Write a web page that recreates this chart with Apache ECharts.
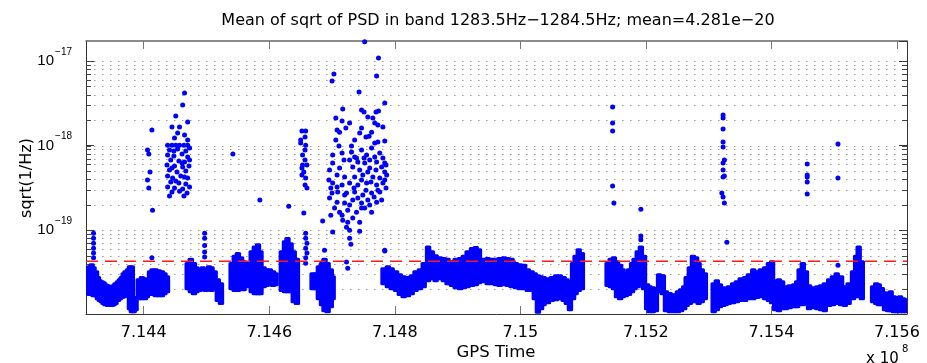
<!DOCTYPE html>
<html><head><meta charset="utf-8">
<script src="https://cdn.jsdelivr.net/npm/echarts@6/dist/echarts.min.js"></script>
<style>html,body{margin:0;padding:0;background:#fff}#c{width:927px;height:363px}</style>
</head><body><div id="c"></div>
<script>
const TITLE = 'Mean of sqrt of PSD in band 1283.5Hz\u22121284.5Hz; mean=4.281e\u221220';
const X_LABEL = 'GPS Time';
const Y_LABEL = 'sqrt(1/Hz)';
const X_MULT = 'x 10';
const X_MULT_EXP = '8';
const X_MIN = 7.14308, X_MAX = 7.15616;
const Y_MIN = 1.02e-20, Y_MAX = 1.72e-17;
const X_TICKS = [7.144, 7.146, 7.148, 7.150, 7.152, 7.154, 7.156];
const MEAN_VALUE = 4.281e-20;
const GRID_VALUES = [2e-20,3e-20,4e-20,5e-20,6e-20,7e-20,8e-20,9e-20,
  1e-19,2e-19,3e-19,4e-19,5e-19,6e-19,7e-19,8e-19,9e-19,
  1e-18,2e-18,3e-18,4e-18,5e-18,6e-18,7e-18,8e-18,9e-18,1e-17];

// dense band: [GPS time (x1e8), low edge, high edge]
const bandColumns = [
[7.14308,1.80e-20,3.55e-20],[7.14311,1.70e-20,3.75e-20],[7.14314,1.66e-20,3.85e-20],[7.14317,1.66e-20,4.07e-20],[7.14320,1.61e-20,3.75e-20],[7.14324,1.61e-20,3.36e-20],
[7.14327,1.48e-20,2.86e-20],[7.14330,1.41e-20,2.63e-20],[7.14333,1.37e-20,2.56e-20],[7.14336,1.30e-20,2.49e-20],[7.14339,1.26e-20,2.36e-20],[7.14343,1.23e-20,2.30e-20],[7.14346,1.23e-20,2.17e-20],[7.14349,1.23e-20,2.23e-20],[7.14352,1.26e-20,2.30e-20],[7.14355,1.30e-20,2.42e-20],
[7.14359,1.41e-20,2.56e-20],[7.14362,1.48e-20,2.70e-20],[7.14365,1.53e-20,2.86e-20],[7.14368,1.57e-20,3.18e-20],[7.14371,1.61e-20,3.36e-20],[7.14375,1.66e-20,3.55e-20],[7.14378,1.13e-20,3.85e-20],[7.14381,1.04e-20,3.85e-20],
[7.14384,1.04e-20,1.66e-20],[7.14387,1.10e-20,1.61e-20],
[7.14392,1.48e-20,2.70e-20],[7.14397,1.48e-20,2.86e-20],[7.14402,1.48e-20,2.78e-20],[7.14405,1.57e-20,2.63e-20],
[7.14410,1.70e-20,3.36e-20],[7.14414,1.66e-20,3.55e-20],[7.14419,1.61e-20,3.55e-20],[7.14424,1.61e-20,3.45e-20],[7.14429,1.61e-20,3.36e-20],[7.14433,1.70e-20,3.18e-20],[7.14437,1.80e-20,2.93e-20],
[7.14470,1.95e-20,4.2e-20],[7.14475,1.80e-20,4.7e-20],[7.14480,1.70e-20,4.2e-20],[7.14484,1.80e-20,3.75e-20],[7.14489,1.85e-20,3.55e-20],[7.14494,1.90e-20,3.75e-20],[7.14499,1.85e-20,3.55e-20],[7.14504,1.90e-20,3.85e-20],[7.14508,1.85e-20,3.75e-20],[7.14513,1.95e-20,3.36e-20],[7.14518,1.41e-20,2.70e-20],[7.14523,1.30e-20,2.42e-20],
[7.14540,1.95e-20,4.2e-20],[7.14545,1.85e-20,5.1e-20],[7.14550,1.85e-20,5.5e-20],[7.14555,1.95e-20,4.9e-20],[7.14559,1.90e-20,4.4e-20],[7.14564,2.06e-20,4.2e-20],
[7.14572,1.80e-20,5.8e-20],[7.14577,1.70e-20,6.6e-20],[7.14582,1.70e-20,7.0e-20],[7.14586,1.70e-20,5.8e-20],[7.14591,2.06e-20,3.75e-20],[7.14596,2.12e-20,3.55e-20],[7.14601,2.23e-20,3.55e-20],[7.14606,2.12e-20,3.36e-20],[7.14610,2.17e-20,3.18e-20],
[7.14620,1.85e-20,5.8e-20],[7.14625,1.80e-20,7.6e-20],[7.14629,1.80e-20,8.3e-20],[7.14634,1.80e-20,7.2e-20],[7.14639,1.37e-20,5.8e-20],[7.14644,1.30e-20,4.7e-20],
[7.14669,1.95e-20,3.18e-20],[7.14674,1.95e-20,3.18e-20],
[7.14679,1.48e-20,3.85e-20],[7.14684,1.26e-20,4.2e-20],[7.14688,1.07e-20,4.7e-20],[7.14693,1.04e-20,4.2e-20],[7.14698,1.19e-20,3.55e-20],[7.14701,1.48e-20,2.93e-20],
[7.14782,2.23e-20,3.65e-20],[7.14789,2.06e-20,3.85e-20],[7.14795,1.95e-20,3.65e-20],[7.14802,1.85e-20,3.36e-20],[7.14808,1.66e-20,3.10e-20],[7.14814,1.57e-20,2.93e-20],[7.14821,1.61e-20,2.86e-20],[7.14827,1.70e-20,3.0e-20],[7.14833,1.85e-20,3.36e-20],[7.14840,1.95e-20,3.55e-20],[7.14846,2.06e-20,4.2e-20],
[7.14853,2.42e-20,6.6e-20],[7.14859,2.56e-20,5.8e-20],[7.14865,2.42e-20,5.2e-20],[7.14872,2.56e-20,4.9e-20],[7.14878,2.42e-20,4.8e-20],[7.14884,2.23e-20,4.7e-20],[7.14891,2.12e-20,4.4e-20],[7.14897,2.0e-20,4.7e-20],[7.14904,1.95e-20,4.8e-20],[7.14910,2.0e-20,5.1e-20],[7.14916,2.06e-20,5.8e-20],[7.14923,2.12e-20,6.3e-20],[7.14929,2.17e-20,6.5e-20],[7.14934,2.30e-20,6.1e-20],
[7.14942,2.36e-20,4.7e-20],[7.14948,2.23e-20,4.8e-20],[7.14955,2.23e-20,4.7e-20],[7.14961,2.17e-20,4.7e-20],
[7.14967,2.12e-20,4.8e-20],[7.14974,2.17e-20,4.9e-20],[7.14980,2.12e-20,4.8e-20],[7.14986,2.06e-20,4.7e-20],[7.14993,2.0e-20,4.2e-20],[7.14999,1.95e-20,4.07e-20],[7.15006,1.95e-20,4.0e-20],[7.15012,1.85e-20,3.55e-20],[7.15018,1.85e-20,3.36e-20],[7.15023,1.48e-20,3.18e-20],
[7.15028,1.03e-20,3.0e-20],[7.15033,1.13e-20,2.93e-20],[7.15037,1.26e-20,2.86e-20],[7.15044,1.33e-20,2.78e-20],[7.15050,1.41e-20,2.86e-20],[7.15057,1.44e-20,3.0e-20],[7.15063,1.48e-20,3.0e-20],[7.15069,1.41e-20,2.86e-20],[7.15074,1.30e-20,2.70e-20],[7.15079,1.10e-20,2.56e-20],
[7.15084,1.48e-20,4.2e-20],[7.15088,1.70e-20,5.1e-20],[7.15093,1.85e-20,6.1e-20],[7.15098,1.95e-20,5.5e-20],
[7.15139,2.12e-20,4.2e-20],[7.15144,2.06e-20,4.7e-20],[7.15149,1.95e-20,4.9e-20],[7.15154,1.57e-20,4.4e-20],[7.15159,1.48e-20,4.0e-20],[7.15163,1.57e-20,3.55e-20],
[7.15168,1.61e-20,3.18e-20],[7.15173,1.66e-20,3.55e-20],[7.15178,1.80e-20,4.2e-20],[7.15182,1.95e-20,4.7e-20],[7.15187,2.06e-20,5.8e-20],[7.15192,2.23e-20,6.6e-20],[7.15197,1.95e-20,5.1e-20],
[7.15202,1.13e-20,2.36e-20],[7.15206,1.04e-20,2.23e-20],[7.15211,1.04e-20,2.17e-20],[7.15216,1.07e-20,2.12e-20],
[7.15221,1.80e-20,3.1e-20],[7.15227,1.70e-20,3.0e-20],
[7.15232,1.07e-20,1.95e-20],[7.15238,1.04e-20,1.85e-20],[7.15245,1.04e-20,1.80e-20],[7.15251,1.04e-20,1.95e-20],[7.15256,1.07e-20,2.06e-20],
[7.15261,1.13e-20,2.23e-20],[7.15265,1.23e-20,2.86e-20],[7.15270,1.30e-20,3.75e-20],[7.15275,1.37e-20,5.1e-20],[7.15280,1.41e-20,4.9e-20],[7.15284,1.30e-20,4.2e-20],[7.15289,1.37e-20,3.55e-20],[7.15294,1.48e-20,3.18e-20],
[7.15308,1.04e-20,2.42e-20],[7.15313,1.10e-20,2.63e-20],[7.15318,1.19e-20,2.36e-20],[7.15323,1.23e-20,2.17e-20],[7.15327,1.26e-20,2.06e-20],
[7.15332,1.30e-20,2.23e-20],[7.15339,1.33e-20,2.42e-20],[7.15345,1.37e-20,2.56e-20],[7.15351,1.41e-20,2.78e-20],[7.15358,1.41e-20,2.86e-20],[7.15364,1.48e-20,3.1e-20],[7.15371,1.48e-20,3.55e-20],[7.15377,1.53e-20,3.36e-20],[7.15383,1.57e-20,3.55e-20],[7.15390,1.48e-20,3.75e-20],[7.15396,1.41e-20,4.2e-20],[7.15401,1.33e-20,4.4e-20],
[7.15406,1.10e-20,2.63e-20],[7.15412,1.07e-20,2.70e-20],[7.15417,1.13e-20,2.56e-20],
[7.15423,1.13e-20,2.23e-20],[7.15429,1.16e-20,2.30e-20],[7.15436,1.19e-20,2.36e-20],[7.15441,1.19e-20,2.56e-20],
[7.15445,1.33e-20,3.55e-20],[7.15450,1.26e-20,4.2e-20],[7.15455,1.30e-20,3.36e-20],
[7.15460,1.13e-20,2.30e-20],[7.15466,1.16e-20,2.17e-20],[7.15473,1.13e-20,2.23e-20],[7.15479,1.10e-20,2.30e-20],[7.15485,1.07e-20,2.42e-20],
[7.15492,1.23e-20,2.70e-20],[7.15498,1.26e-20,2.93e-20],[7.15504,1.30e-20,3.18e-20],[7.15511,1.26e-20,2.93e-20],
[7.15517,1.23e-20,2.23e-20],[7.15523,1.30e-20,2.42e-20],
[7.15530,1.48e-20,3.36e-20],[7.15535,1.57e-20,5.1e-20],[7.15539,1.66e-20,6.6e-20],[7.15544,1.48e-20,4.4e-20],
[7.15562,1.37e-20,2.23e-20],[7.15567,1.30e-20,2.42e-20],[7.15571,1.26e-20,2.36e-20],[7.15576,1.26e-20,2.12e-20],
[7.15581,1.10e-20,1.90e-20],[7.15586,1.07e-20,1.85e-20],[7.15590,1.07e-20,1.95e-20],[7.15595,1.04e-20,1.70e-20],
[7.15600,1.04e-20,1.66e-20],[7.15605,1.04e-20,1.70e-20],[7.15610,1.04e-20,1.61e-20],[7.15614,1.04e-20,1.57e-20]
];

// individual samples above the band: [GPS time (x1e8), value]
const outlierPoints = [
[7.14320,9.2e-20],[7.14320,8.0e-20],[7.14320,7.0e-20],[7.14320,6.1e-20],[7.14320,5.35e-20],[7.14320,4.7e-20],
[7.14413,4.7e-20],
[7.14497,9.2e-20],[7.14497,8.0e-20],[7.14497,6.6e-20],[7.14497,5.5e-20],[7.14497,4.8e-20],
[7.14413,1.53e-18],[7.14406,8.84e-19],[7.14408,7.93e-19],[7.14410,4.86e-19],[7.14406,3.9e-19],[7.14408,3.14e-19],[7.14414,1.72e-19],
[7.14465,4.18e-18],[7.14462,3.02e-18],[7.14451,2.23e-18],[7.14470,1.9e-18],[7.14445,1.66e-18],[7.14457,1.66e-18],[7.14454,1.41e-18],[7.14465,1.33e-18],[7.14449,1.23e-18],[7.14470,1.16e-18],
[7.14438,1.01e-18],[7.14445,1.01e-18],[7.14451,1.01e-18],[7.14457,1.01e-18],[7.14464,1.01e-18],[7.14470,1.01e-18],
[7.14441,8.84e-19],[7.14454,9.09e-19],[7.14467,8.6e-19],[7.14473,9.34e-19],[7.14448,8.6e-19],
[7.14438,7.72e-19],[7.14448,7.51e-19],[7.14461,7.93e-19],[7.14470,7.31e-19],
[7.14443,6.74e-19],[7.14456,6.55e-19],[7.14465,6.38e-19],[7.14473,6.74e-19],[7.14461,6.21e-19],
[7.14437,5.88e-19],[7.14449,5.72e-19],[7.14462,5.57e-19],[7.14472,5.72e-19],[7.14445,5.42e-19],
[7.14441,5.13e-19],[7.14453,4.86e-19],[7.14467,4.99e-19],
[7.14438,4.36e-19],[7.14446,4.12e-19],[7.14459,4.36e-19],[7.14470,4.12e-19],[7.14465,4.24e-19],[7.14451,3.8e-19],
[7.14443,3.7e-19],[7.14456,3.6e-19],[7.14467,3.5e-19],
[7.14438,3.23e-19],[7.14449,3.14e-19],[7.14462,3.06e-19],[7.14473,3.23e-19],
[7.14445,2.82e-19],[7.14457,2.89e-19],[7.14469,2.74e-19],[7.14441,2.53e-19],[7.14464,2.53e-19],
[7.14542,7.93e-19],[7.14585,2.27e-19],[7.14631,1.92e-19],
[7.14652,1.48e-18],[7.14658,1.48e-18],[7.14657,1.26e-18],[7.14650,1.07e-18],[7.14650,1.16e-18],[7.14658,1.01e-18],[7.14657,8.84e-19],[7.14653,7.72e-19],[7.14657,6.74e-19],[7.14653,5.88e-19],[7.14660,5.88e-19],[7.14652,5.42e-19],[7.14655,4.86e-19],[7.14652,4.48e-19],[7.14658,4.12e-19],[7.14657,3.41e-19],[7.14660,3.14e-19],[7.14655,1.59e-19],
[7.14658,9.2e-20],[7.14658,8.0e-20],[7.14660,7.0e-20],[7.14658,6.1e-20],[7.14660,5.35e-20],[7.14658,4.7e-20],[7.14658,4.07e-20],
[7.14688,5.8e-20],[7.14723,4.2e-20],[7.14725,3.55e-20],[7.14784,5.8e-20],
[7.14752,1.68e-17],[7.14774,1.085e-17],[7.14703,7.02e-18],[7.14700,5.8e-18],[7.14771,6.65e-18],[7.14743,4.30e-18],[7.14784,3.18e-18],
[7.14717,2.70e-18],[7.14747,2.63e-18],[7.14751,2.49e-18],[7.14774,2.56e-18],[7.14770,2.49e-18],[7.14757,2.17e-18],[7.14765,2.12e-18],[7.14716,1.95e-18],[7.14768,1.85e-18],[7.14781,1.66e-18],[7.14773,1.75e-18],
[7.14747,1.61e-18],[7.14708,1.53e-18],[7.14712,1.44e-18],[7.14744,1.41e-18],[7.14763,1.44e-18],[7.14754,1.26e-18],[7.14759,1.29e-18],[7.14784,1.13e-18],[7.14768,1.07e-18],[7.14773,1.10e-18],
[7.14711,9.86e-19],[7.14731,9.86e-19],[7.14706,2.12e-18],[7.14728,1.85e-18],[7.14722,1.61e-18],[7.14736,1.16e-18],[7.14706,1.16e-18],
[7.14701,7.72e-19],[7.14716,8.15e-19],[7.14731,8.37e-19],[7.14736,7.31e-19],[7.14747,8.84e-19],[7.14755,7.72e-19],[7.14763,9.34e-19],[7.14776,8.15e-19],[7.14781,7.11e-19],
[7.14741,6.38e-19],[7.14752,6.21e-19],[7.14771,6.38e-19],[7.14701,6.21e-19],[7.14712,5.42e-19],[7.14733,5.57e-19],[7.14744,5.13e-19],[7.14760,5.42e-19],[7.14779,5.57e-19],[7.14784,4.86e-19],
[7.14708,4.48e-19],[7.14720,4.24e-19],[7.14736,4.24e-19],[7.14749,4.48e-19],[7.14765,4.24e-19],[7.14776,4.12e-19],
[7.14701,3.6e-19],[7.14716,3.41e-19],[7.14728,3.6e-19],[7.14741,3.41e-19],[7.14755,3.6e-19],[7.14771,3.41e-19],[7.14781,3.6e-19],
[7.14700,2.74e-19],[7.14709,2.82e-19],[7.14723,2.74e-19],[7.14736,2.82e-19],[7.14749,2.6e-19],[7.14763,2.74e-19],[7.14776,2.82e-19],
[7.14708,2.14e-19],[7.14720,2.09e-19],[7.14733,2.27e-19],[7.14747,2.09e-19],[7.14757,2.27e-19],[7.14771,2.14e-19],
[7.14712,1.63e-19],[7.14725,1.72e-19],[7.14739,1.63e-19],[7.14752,1.82e-19],[7.14763,1.63e-19],
[7.14717,1.31e-19],[7.14733,1.39e-19],[7.14744,1.24e-19],[7.14723,1.08e-19],
[7.14739,7.11e-19],[7.14751,7.11e-19],[7.14760,6.74e-19],[7.14768,7.31e-19],[7.14784,6.21e-19],[7.14728,6.74e-19],[7.14757,4.86e-19],[7.14770,5.13e-19],
[7.14747,3.9e-19],[7.14762,3.7e-19],[7.14784,3.9e-19],[7.14735,3.14e-19],[7.14754,2.97e-19],[7.14773,2.97e-19],[7.14786,3.14e-19],
[7.14720,2.6e-19],[7.14741,2.39e-19],[7.14767,2.46e-19],[7.14779,2.27e-19],[7.14728,1.98e-19],[7.14747,1.82e-19],[7.14760,1.98e-19],
[7.14786,5.88e-19],[7.14787,4.48e-19],[7.14719,6.74e-19],[7.14708,3.23e-19],[7.14696,2.39e-19],[7.14704,1.82e-19],[7.14716,1.5e-19],
[7.14696,5.13e-19],[7.14695,3.9e-19],[7.14698,3.14e-19],
[7.14685,1.28e-19],[7.14698,1.5e-19],[7.14701,9.5e-20],[7.14728,1.0e-19],[7.14728,8.0e-20],[7.14730,6.8e-20],[7.14744,9.7e-20],[7.14784,5.65e-20],[7.14725,1.24e-19],
[7.15147,2.86e-18],[7.15147,1.85e-18],[7.15147,1.48e-18],[7.15147,3.32e-19],[7.15149,2.09e-19],
[7.15192,1.77e-19],[7.15192,8.5e-20],[7.15192,7.7e-20],
[7.15323,2.30e-18],[7.15323,2.12e-18],[7.15323,1.57e-18],[7.15323,1.10e-18],[7.15323,9.59e-19],[7.15325,6.74e-19],[7.15323,6.21e-19],[7.15323,5.13e-19],[7.15325,4.36e-19],[7.15323,4.24e-19],[7.15321,2.74e-19],[7.15323,2.46e-19],[7.15325,2.09e-19],[7.15329,7.2e-20],
[7.15457,6.04e-19],[7.15457,4.48e-19],[7.15457,4.24e-19],[7.15457,3.7e-19],[7.15457,2.67e-19],
[7.15506,1.04e-18],[7.15506,4.12e-19],[7.15506,3.85e-20]
];

const FONT = '"DejaVu Sans", sans-serif';
const LFONT = '"Liberation Sans", Arial, sans-serif';
const chart = echarts.init(document.getElementById('c'), null, {renderer: 'canvas'});

function expLabel(v) {
  const e = Math.round(Math.log10(v));
  return '{b|10}{s|' + (e < 0 ? '\u2212' : '') + Math.abs(e) + '}';
}

const axisLineStyle = {color: '#333', width: 1};
chart.setOption({
  animation: false,
  backgroundColor: '#fff',
  grid: {left: 86, right: 20, top: 41, bottom: 49, containLabel: false, outerBoundsMode: 'none'},
  xAxis: [{
    type: 'value', min: X_MIN, max: X_MAX, position: 'bottom',
    axisLine: {show: true, lineStyle: axisLineStyle},
    axisTick: {show: true, inside: true, length: 8, lineStyle: {color: '#777'}, customValues: X_TICKS},
    axisLabel: {show: true, customValues: X_TICKS, margin: 11, color: '#000', fontFamily: FONT, fontSize: 16,
      formatter: v => String(+v.toFixed(3))},
    splitLine: {show: false}
  }, {
    type: 'value', min: X_MIN, max: X_MAX, position: 'top',
    axisLine: {show: true, lineStyle: {color: '#666', width: 1.5}},
    axisTick: {show: true, inside: true, length: 8, lineStyle: {color: '#777'}, customValues: X_TICKS},
    axisLabel: {show: false}, splitLine: {show: false}
  }],
  yAxis: [{
    type: 'log', min: Y_MIN, max: Y_MAX, logBase: 10, position: 'left',
    axisLine: {show: true, lineStyle: axisLineStyle},
    axisTick: {show: true, inside: true, length: 8, lineStyle: {color: '#333'}},
    axisLabel: {show: true, showMinLabel: false, showMaxLabel: false, margin: 14, color: '#000',
      formatter: expLabel,
      rich: {
        b: {fontFamily: LFONT, fontSize: 15, color: '#000', verticalAlign: 'middle'},
        s: {fontFamily: LFONT, fontSize: 10, color: '#000', verticalAlign: 'middle', padding: [0, 0, 18, 1]}
      }},
    splitLine: {show: false}
  }, {
    type: 'log', min: Y_MIN, max: Y_MAX, logBase: 10, position: 'right',
    axisLine: {show: true, lineStyle: axisLineStyle},
    axisTick: {show: true, inside: true, length: 8, lineStyle: {color: '#333'}},
    axisLabel: {show: false}, splitLine: {show: false}
  }],
  graphic: [
    {type: 'text', x: 498, y: 21, style: {text: TITLE, font: '16px ' + FONT, fill: '#000', align: 'center', verticalAlign: 'middle'}},
    {type: 'text', x: 496, y: 353, style: {text: X_LABEL, font: '16.5px ' + FONT, fill: '#000', align: 'center', verticalAlign: 'middle'}},
    {type: 'text', x: 27, y: 178, rotation: Math.PI / 2, style: {text: Y_LABEL, font: '16px ' + FONT, fill: '#000', align: 'center', verticalAlign: 'middle'}},
    {type: 'text', x: 866, y: 352, style: {text: X_MULT, font: '15px ' + FONT, fill: '#000', align: 'left', verticalAlign: 'top'}},
    {type: 'text', x: 902, y: 344, style: {text: X_MULT_EXP, font: '10px ' + FONT, fill: '#000', align: 'left', verticalAlign: 'top'}}
  ],
  series: [{
    type: 'custom', name: 'grid', z: 1, silent: true, clip: false,
    data: GRID_VALUES.map(v => [X_MIN, v]),
    encode: {x: 0, y: 1},
    renderItem: (params, api) => {
      const cs = params.coordSys;
      const y = Math.round(api.coord([api.value(0), api.value(1)])[1]) + 0.5;
      return {type: 'group', children: [
        {type: 'line', shape: {x1: cs.x, y1: y, x2: cs.x + cs.width, y2: y}, style: {stroke: '#999', lineWidth: 1, lineDash: [1.5, 6.5]}},
        {type: 'line', shape: {x1: cs.x, y1: y, x2: cs.x + 5, y2: y}, style: {stroke: '#444', lineWidth: 1}},
        {type: 'line', shape: {x1: cs.x + cs.width - 5, y1: y, x2: cs.x + cs.width, y2: y}, style: {stroke: '#444', lineWidth: 1}}
      ]};
    }
  }, {
    type: 'custom', name: 'band', z: 2, silent: true, clip: true,
    data: bandColumns,
    encode: {x: 0, y: [1, 2]},
    renderItem: (params, api) => {
      const top = api.coord([api.value(0), api.value(2)]);
      const bot = api.coord([api.value(0), api.value(1)]);
      return {type: 'rect', shape: {x: top[0] - 3.2, y: top[1], width: 6.4, height: Math.max(bot[1] - top[1], 4), r: 1.5},
        style: {fill: '#0000ff'}};
    }
  }, {
    type: 'scatter', name: 'points', z: 3, silent: true,
    data: outlierPoints, symbol: 'circle', symbolSize: 5,
    itemStyle: {color: '#0000ff', opacity: 1}
  }, {
    type: 'line', name: 'mean', z: 4, silent: true,
    data: [[X_MIN, MEAN_VALUE], [X_MAX, MEAN_VALUE]],
    showSymbol: false, symbol: 'none',
    lineStyle: {color: '#ff1a1a', width: 1.6, type: [12, 7], opacity: 1}
  }]
});
</script></body></html>
